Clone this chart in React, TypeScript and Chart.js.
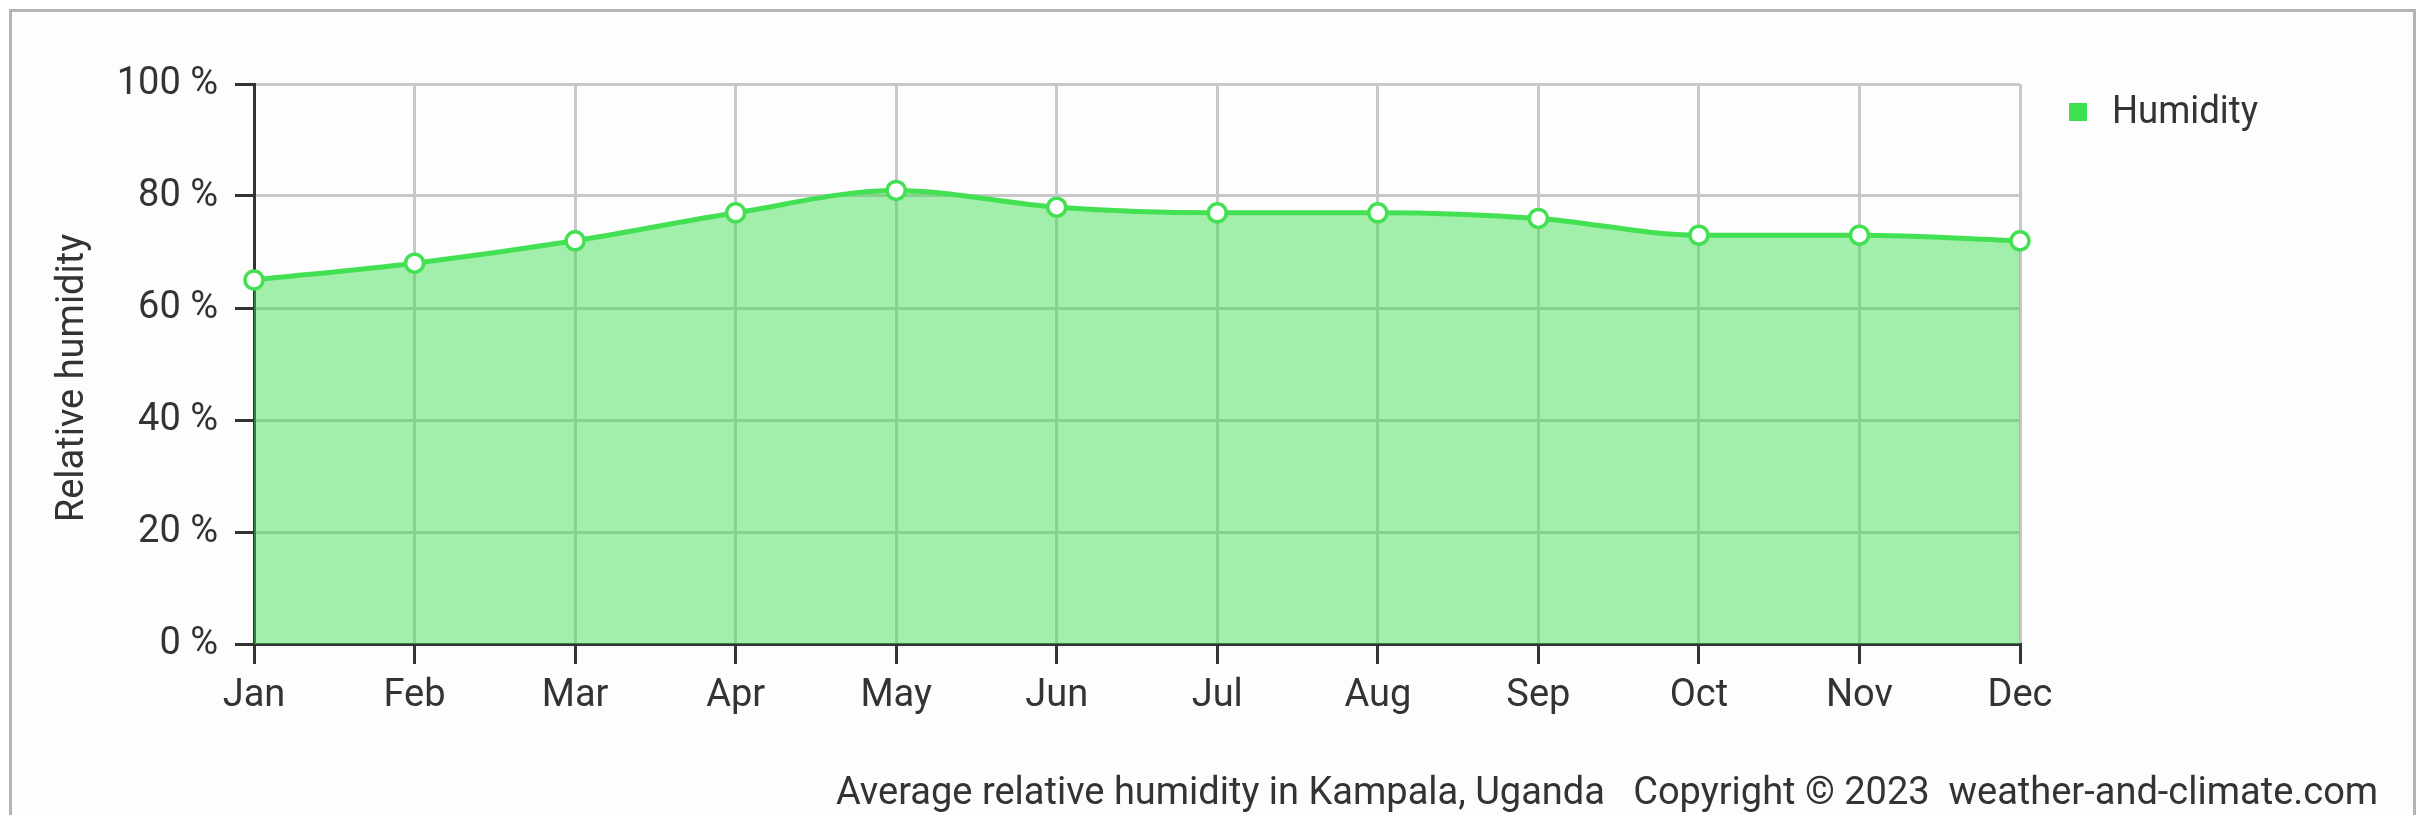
import React, { useEffect, useRef } from "react";
import { Chart, registerables } from "chart.js";

Chart.register(...registerables);

const months = ["Jan", "Feb", "Mar", "Apr", "May", "Jun", "Jul", "Aug", "Sep", "Oct", "Nov", "Dec"];
const humidity = [65, 68, 72, 77, 81, 78, 77, 77, 76, 73, 73, 72];
const yTicks = [0, 20, 40, 60, 80, 100];
const seriesName = "Humidity";
const yTitle = "Relative humidity";
const caption = "Average relative humidity in Kampala, Uganda   Copyright \u00a9 2023  weather-and-climate.com";

const FONT = "Roboto, 'DejaVu Sans', sans-serif";
const TEXT = "#333333";
const LINE = "#43e053";

const W = 2426;
const H = 815;

const overlayPlugin = {
  id: "overlay",
  afterDraw(chart: any) {
    const ctx = chart.ctx;
    ctx.save();
    ctx.font = `38px ${FONT}`;
    // legend
    ctx.fillStyle = "#3ee04f";
    ctx.fillRect(2069, 103, 18, 18);
    ctx.fillStyle = TEXT;
    ctx.textAlign = "left";
    ctx.textBaseline = "alphabetic";
    ctx.fillText(seriesName, 2112, 123, 146);
    // y title
    ctx.save();
    ctx.translate(83, 378);
    ctx.rotate(-Math.PI / 2);
    ctx.textAlign = "center";
    ctx.textBaseline = "alphabetic";
    ctx.fillText(yTitle, 0, 0, 310);
    ctx.restore();
    // caption
    ctx.textAlign = "left";
    ctx.textBaseline = "alphabetic";
    ctx.fillText(caption, 836, 804, 1555);
    ctx.restore();
  },
};

export default function App() {
  const ref = useRef<HTMLCanvasElement | null>(null);

  useEffect(() => {
    document.body.style.overflow = "hidden";
    const canvas = ref.current;
    if (!canvas) return;
    const chart = new Chart(canvas, {
      type: "line",
      data: {
        labels: months,
        datasets: [
          {
            label: seriesName,
            data: humidity,
            borderColor: LINE,
            borderWidth: 5,
            backgroundColor: "rgba(50, 220, 70, 0.45)",
            fill: "origin",
            pointRadius: 9,
            pointBorderWidth: 3.5,
            pointBackgroundColor: "#ffffff",
            pointBorderColor: LINE,
            cubicInterpolationMode: "monotone",
            clip: false as any,
          },
        ],
      },
      options: {
        animation: false,
        responsive: false,
        maintainAspectRatio: false,
        devicePixelRatio: 1,
        layout: { padding: { left: 0, top: 84, right: W - 2020, bottom: 0 } },
        plugins: {
          legend: { display: false },
          tooltip: { enabled: false },
        },
        scales: {
          x: {
            offset: false,
            grid: {
              color: "#c8c8c8",
              lineWidth: 3,
              tickColor: TEXT,
              tickLength: 20,
              tickWidth: 3,
              drawTicks: true,
            },
            border: { color: TEXT, width: 3 },
            ticks: {
              color: TEXT,
              font: { family: FONT, size: 38 },
              padding: 10,
              maxRotation: 0,
              autoSkip: false,
            },
            afterFit(scale: any) {
              scale.height = H - 644;
            },
          },
          y: {
            min: 0,
            max: 100,
            afterBuildTicks(scale: any) {
              scale.ticks = yTicks.map((v) => ({ value: v }));
            },
            grid: {
              color: "#c8c8c8",
              lineWidth: 3,
              tickColor: TEXT,
              tickLength: 19,
              tickWidth: 3,
            },
            border: { color: TEXT, width: 3 },
            ticks: {
              color: TEXT,
              font: { family: FONT, size: 38 },
              padding: 17,
              callback: (v: any) => `${v} %`,
            },
            afterFit(scale: any) {
              scale.width = 254;
            },
          },
        },
      },
      plugins: [overlayPlugin],
    });
    return () => chart.destroy();
  }, []);

  return (
    <div style={{ position: "fixed", left: 0, top: 0, width: W, height: H, overflow: "hidden" }}>
      <div
        style={{
          position: "absolute",
          left: 9,
          top: 9,
          width: 2401,
          height: 900,
          border: "3px solid #b4b4b4",
          background: "#fdfdfd",
        }}
      />
      <canvas ref={ref} width={W} height={H} style={{ position: "absolute", left: 0, top: 0, width: W, height: H }} />
    </div>
  );
}
